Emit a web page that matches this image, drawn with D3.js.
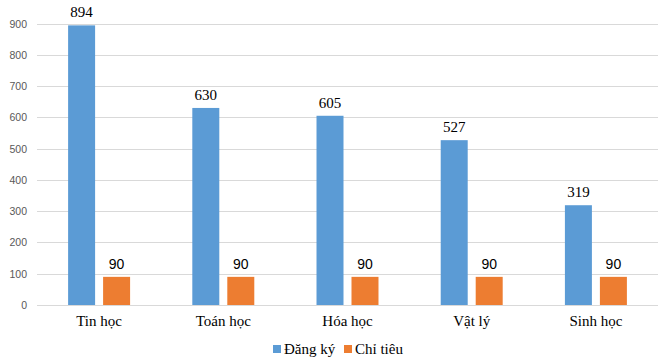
<!DOCTYPE html>
<html><head><meta charset="utf-8">
<script src="https://cdn.jsdelivr.net/npm/d3@7"></script>
<style>body{margin:0;background:#fff;}svg{display:block;}</style>
</head><body>
<svg id="c" width="660" height="360"></svg>
<script>
const categories = ["Tin học", "Toán học", "Hóa học", "Vật lý", "Sinh học"];
const seriesNames = ["Đăng ký", "Chỉ tiêu"];
const dangKy = [894, 630, 605, 527, 319];
const chiTieu = [90, 90, 90, 90, 90];
const yTicks = [0, 100, 200, 300, 400, 500, 600, 700, 800, 900];

(function () {
const colors = ["#5B9BD5", "#ED7D31"];
const svg = d3.select("#c");
const mLeft = 37, mRight = 658, mTop = 23.5, mBottom = 305;

const x = d3.scaleBand().domain(categories).range([mLeft, mRight]).padding(0);
const x1 = d3.scaleBand().domain(seriesNames).range([0, x.bandwidth()]).paddingInner(0.2286).paddingOuter(0.889);
const y = d3.scaleLinear().domain([0, 900]).range([mBottom, mTop]);

// grid
svg.append("g").selectAll("line").data(yTicks).join("line")
  .attr("x1", mLeft).attr("x2", mRight)
  .attr("y1", d => Math.round(y(d)) + 0.5).attr("y2", d => Math.round(y(d)) + 0.5)
  .attr("stroke", "#d9d9d9").attr("stroke-width", 1);

// y tick labels
svg.append("g").selectAll("text").data(yTicks).join("text")
  .attr("x", 27).attr("y", d => y(d) + 4)
  .attr("text-anchor", "end")
  .attr("font-family", "Liberation Sans, Arial, sans-serif")
  .attr("font-size", 10.5).attr("fill", "#595959")
  .text(d => d);

const data = categories.map((c, i) => ({c, vals: [dangKy[i], chiTieu[i]]}));

const g = svg.append("g").selectAll("g").data(data).join("g")
  .attr("transform", d => `translate(${x(d.c)},0)`);

g.selectAll("rect").data(d => d.vals.map((v, j) => ({s: seriesNames[j], v, j}))).join("rect")
  .attr("x", d => x1(d.s)).attr("width", x1.bandwidth())
  .attr("y", d => y(d.v)).attr("height", d => y(0) - y(d.v))
  .attr("fill", d => colors[d.j]);

g.selectAll("text").data(d => d.vals.map((v, j) => ({s: seriesNames[j], v, j}))).join("text")
  .attr("x", d => x1(d.s) + x1.bandwidth() / 2)
  .attr("y", d => y(d.v) - 8)
  .attr("text-anchor", "middle")
  .attr("font-family", d => d.j === 0 ? "Liberation Serif, Times New Roman, serif" : "Liberation Sans, Arial, sans-serif")
  .attr("font-size", d => d.j === 0 ? 15 : 14)
  .attr("fill", "#000")
  .text(d => d.v);

// category labels
svg.append("g").selectAll("text").data(categories).join("text")
  .attr("x", d => x(d) + x.bandwidth() / 2).attr("y", 326)
  .attr("text-anchor", "middle")
  .attr("font-family", "Liberation Serif, Times New Roman, serif")
  .attr("font-size", 15).attr("fill", "#000")
  .text(d => d);

// legend
const legendX = [273, 344];
const lg = svg.append("g").selectAll("g").data(seriesNames).join("g")
  .attr("transform", (d, i) => `translate(${legendX[i]},345)`);
lg.append("rect").attr("x", 0).attr("y", 0).attr("width", 8).attr("height", 8).attr("fill", (d, i) => colors[i]);
lg.append("text").attr("x", 11).attr("y", 9)
  .attr("font-family", "Liberation Serif, Times New Roman, serif")
  .attr("font-size", 15).attr("fill", "#000")
  .text(d => d);
})();
</script>
</body></html>
